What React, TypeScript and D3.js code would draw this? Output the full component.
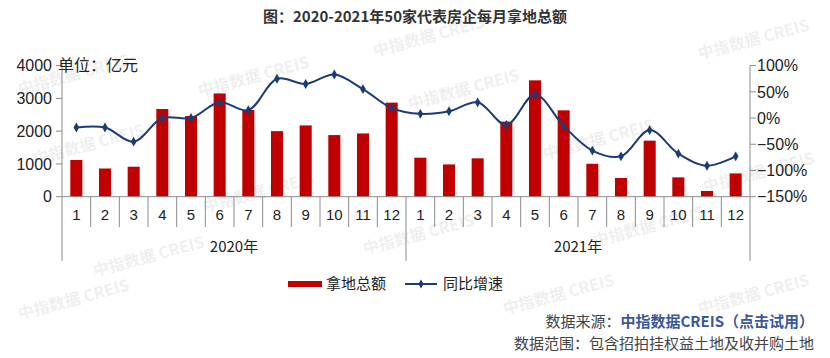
import React from "react";
import * as d3 from "d3";

const months = ["1","2","3","4","5","6","7","8","9","10","11","12","1","2","3","4","5","6","7","8","9","10","11","12"];
const years = ["2020年", "2021年"];
const landAmount = [1120, 860, 915, 2675, 2460, 3150, 2645, 2000, 2175, 1880, 1930, 2870,
  1190, 985, 1170, 2290, 3550, 2635, 1005, 570, 1710, 590, 175, 710];
const yoyGrowth = [-18, -18, -45, 0, 0, 30, 15, 75, 65, 83, 55, 19,
  8, 13, 30, -13, 45, -15, -62, -73, -23, -68, -91, -73];
const leftTicks = [0, 1000, 2000, 3000, 4000];
const rightTicks = [-150, -100, -50, 0, 50, 100];

const W = 830, H = 358;
const x0 = 62, x1 = 750, yTop = 65.6, yBot = 196.7;
const sansFont = "'Liberation Sans', Arial, sans-serif";
const cjkFont = "'Noto Sans CJK SC', sans-serif";

const watermarks = [
  [75, 80], [255, 82], [430, 42], [90, 150], [465, 95], [600, 145], [260, 198],
  [420, 240], [650, 232], [755, 45], [760, 178], [150, 262], [560, 300], [755, 300], [75, 305]
];

export default function App() {
  const idx = months.map((_, i) => String(i));
  const x = d3.scaleBand<string>().domain(idx).range([x0, x1]).paddingInner(0);
  const yL = d3.scaleLinear().domain([0, 4000]).range([yBot, yTop]);
  const yR = d3.scaleLinear().domain([-150, 100]).range([yBot, yTop]);
  const bw = x.bandwidth();
  const barW = bw * 0.42;
  const cx = (i: number) => (x(String(i)) as number) + bw / 2;
  const line = d3.line<number>().x((_, i) => cx(i)).y((d) => yR(d)).curve(d3.curveCatmullRom.alpha(0.5));
  const axisColor = "#8c8c8c";
  const blue = "#1c3a73";
  const red = "#c00000";

  return (
    <svg width={W} height={H} style={{ position: "absolute", left: 0, top: 0, background: "#fff" }}>
      <rect width={W} height={H} fill="#fff" />
      {/* watermarks */}
      {watermarks.map(([wx, wy], i) => (
        <text key={"wm" + i} x={wx} y={wy} transform={`rotate(-15 ${wx} ${wy})`} textAnchor="middle"
          fontFamily={cjkFont} fontSize={16} fontWeight="bold" fill="#000" opacity={0.06}>中指数据 CREIS</text>
      ))}
      <text x={415} y={22} textAnchor="middle" fontFamily={cjkFont} fontWeight="bold" fontSize={15} fill="#333">图：2020-2021年50家代表房企每月拿地总额</text>

      {/* bars */}
      {landAmount.map((v, i) => (
        <rect key={"b" + i} x={cx(i) - barW / 2} y={yL(v)} width={barW} height={yBot - yL(v)} fill={red} />
      ))}

      {/* left axis */}
      <line x1={x0} x2={x0} y1={yTop - 2} y2={yBot} stroke={axisColor} />
      {leftTicks.map((t) => (
        <g key={"lt" + t}>
          <line x1={x0 - 6} x2={x0} y1={yL(t)} y2={yL(t)} stroke={axisColor} />
          <text x={52} y={yL(t)} dy="0.36em" textAnchor="end" fontFamily={sansFont} fontSize={16} fill="#222">{t}</text>
        </g>
      ))}
      <text x={58} y={71} fontFamily={cjkFont} fontSize={16} fill="#222">单位：亿元</text>

      {/* right axis */}
      <line x1={x1} x2={x1} y1={yTop} y2={yBot} stroke={axisColor} />
      {rightTicks.map((t) => (
        <g key={"rt" + t}>
          <line x1={x1} x2={x1 + 6} y1={yR(t)} y2={yR(t)} stroke={axisColor} />
          <text x={757} y={yR(t)} dy="0.36em" textAnchor="start" fontFamily={sansFont} fontSize={16} fill="#222">{t < 0 ? "−" + Math.abs(t) : t}%</text>
        </g>
      ))}

      {/* x axis */}
      <line x1={x0} x2={x1} y1={yBot} y2={yBot} stroke={axisColor} />
      {months.map((m, i) => {
        const left = x(String(i)) as number;
        const long = i === 0 || i === 12;
        return (
          <g key={"xm" + i}>
            <line x1={left} x2={left} y1={yBot} y2={long ? 261 : 227} stroke={axisColor} />
            <text x={cx(i)} y={220} textAnchor="middle" fontFamily={sansFont} fontSize={15} fill="#222">{m}</text>
          </g>
        );
      })}
      <line x1={x1} x2={x1} y1={yBot} y2={261} stroke={axisColor} />
      {years.map((yr, k) => (
        <text key={yr} x={(cx(k * 12) + cx(k * 12 + 11)) / 2} y={252} textAnchor="middle" fontFamily={cjkFont} fontSize={15} fill="#222">{yr}</text>
      ))}

      {/* line */}
      <path d={line(yoyGrowth) || ""} fill="none" stroke={blue} strokeWidth={2} />
      {yoyGrowth.map((v, i) => (
        <path key={"m" + i} d={d3.symbol().type(d3.symbolDiamond).size(28)() || ""} transform={`translate(${cx(i)},${yR(v)})`} fill={blue} />
      ))}

      {/* legend */}
      <rect x={288} y={281} width={34} height={6} fill={red} />
      <text x={326} y={289} fontFamily={cjkFont} fontSize={15} fill="#222">拿地总额</text>
      <line x1={405} x2={437} y1={284} y2={284} stroke={blue} strokeWidth={2} />
      <path d={d3.symbol().type(d3.symbolDiamond).size(24)() || ""} transform="translate(421,284)" fill={blue} />
      <text x={443} y={289} fontFamily={cjkFont} fontSize={15} fill="#222">同比增速</text>

      {/* source */}
      <text x={814} y={327} textAnchor="end" fontFamily={cjkFont} fontSize={15}>
        <tspan fill="#444">数据来源：</tspan>
        <tspan fill="#3b5998" fontWeight="bold">中指数据CREIS（点击试用）</tspan>
      </text>
      <text x={814} y={349} textAnchor="end" fontFamily={cjkFont} fontSize={15} fill="#444">数据范围：包含招拍挂权益土地及收并购土地</text>
    </svg>
  );
}
